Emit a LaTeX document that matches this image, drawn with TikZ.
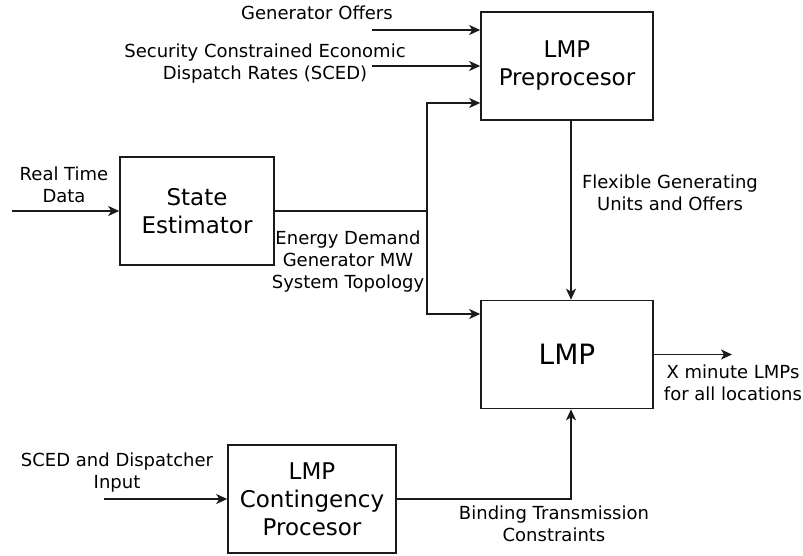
\documentclass[tikz,border=0pt]{standalone}
\usepackage{fontspec}
\setmainfont{DejaVu Sans}
\usepackage{xcolor}
\usetikzlibrary{arrows.meta, positioning, calc}
\definecolor{lineColor}{HTML}{1A1A1A}

\begin{document}
\begin{tikzpicture}[
    x=1pt, y=-1pt,
    block/.style={rectangle, draw=lineColor, line width=1.6pt, minimum width=172pt, minimum height=108pt, align=center, font=\fontsize{23}{28}\selectfont},
    bigblock/.style={block, font=\fontsize{28}{34}\selectfont},
    flow/.style={-{Stealth[length=11pt, width=10pt, inset=3pt]}, line width=1.6pt, draw=lineColor},
    wire/.style={line width=1.6pt, draw=lineColor},
    labelStyle/.style={align=center, inner sep=0pt, font=\fontsize{18}{22}\selectfont}
]
\useasboundingbox (0,0) rectangle (803,556);

\node[block] (Pre) at (567,66) {LMP\\Preprocesor};
\node[block, minimum width=154pt] (SE) at (197,211) {State\\Estimator};
\node[bigblock] (LMP) at (567,354.5) {LMP};
\node[block, minimum width=168pt] (Cont) at (312,499) {LMP\\Contingency\\Procesor};

\coordinate (genIn) at (372,30);
\coordinate (scedIn) at (372,66);
\coordinate (split) at (427,211);
\coordinate (splitUp) at (427,103);
\coordinate (splitDown) at (427,314);
\coordinate (rtIn) at (12,211);
\coordinate (lmpOut) at (732,354.5);
\coordinate (dispIn) at (104,499);

\node[labelStyle] (genLbl) at (317,13) {Generator Offers};
\node[labelStyle] (scedLbl) at (265,64) {Security Constrained Economic\\Dispatch Rates (SCED)};
\node[labelStyle] (rtLbl) at (64,185) {Real Time\\Data};
\node[labelStyle] (sysLbl) at (348,262) {Energy Demand\\Generator MW\\System Topology};
\node[labelStyle] (flexLbl) at (670,193) {Flexible Generating\\Units and Offers};
\node[labelStyle] (outLbl) at (733,383) {X minute LMPs\\for all locations};
\node[labelStyle] (dispLbl) at (117,473) {SCED and Dispatcher\\Input};
\node[labelStyle] (bindLbl) at (554,524) {Binding Transmission\\Constraints};

% inputs to the preprocessor
\draw[flow] (genIn) -- (genIn -| Pre.west);
\draw[flow] (scedIn) -- (scedIn -| Pre.west);

% state estimator output
\draw[flow] (rtIn) -- (SE.west);
\draw[wire] (SE.east) -- (split);
\draw[flow] (split) -- (splitUp) -- (splitUp -| Pre.west);
\draw[flow] (split) -- (splitDown) -- (splitDown -| LMP.west);

\draw[flow] ([xshift=4pt]Pre.south) -- ([xshift=4pt]LMP.north);
\draw[flow] (LMP.east) -- (lmpOut);

\draw[flow] (dispIn) -- (Cont.west);
\draw[flow] (Cont.east) -| ([xshift=4pt]LMP.south);

\end{tikzpicture}
\end{document}
